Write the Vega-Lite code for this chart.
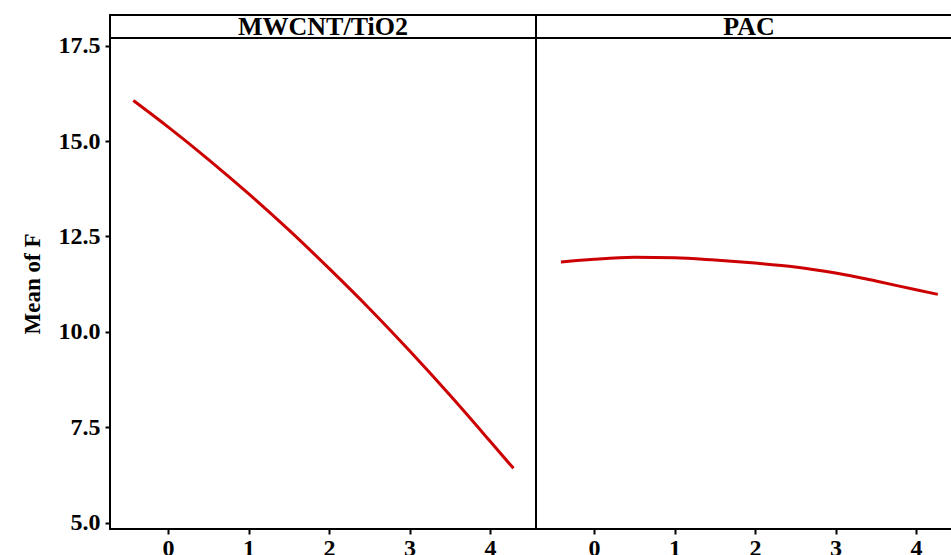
{
  "$schema": "https://vega.github.io/schema/vega-lite/v6.json",
  "background": "white",
  "padding": {"left": 20, "top": 12, "right": 0, "bottom": 0},
  "bounds": "flush",
  "columns": 2,
  "spacing": 0,
  "config": {
    "view": {"stroke": "black", "strokeWidth": 2},
    "font": "Liberation Serif",
    "axis": {
      "grid": false,
      "domain": false,
      "tickColor": "black",
      "tickWidth": 2,
      "tickSize": 5,
      "labelFont": "Liberation Serif",
      "labelFontWeight": "bold",
      "labelFontSize": 24,
      "labelColor": "black",
      "titleFont": "Liberation Serif",
      "titleFontWeight": "bold",
      "titleFontSize": 23,
      "titleColor": "black"
    }
  },
  "datasets": {
    "curves": [
      {"panel": "MWCNT/TiO2", "A": -0.43, "F": 16.06},
      {"panel": "MWCNT/TiO2", "A": 0.0, "F": 15.37},
      {"panel": "MWCNT/TiO2", "A": 0.5, "F": 14.52},
      {"panel": "MWCNT/TiO2", "A": 1.0, "F": 13.62},
      {"panel": "MWCNT/TiO2", "A": 1.5, "F": 12.67},
      {"panel": "MWCNT/TiO2", "A": 2.0, "F": 11.66},
      {"panel": "MWCNT/TiO2", "A": 2.5, "F": 10.61},
      {"panel": "MWCNT/TiO2", "A": 3.0, "F": 9.50},
      {"panel": "MWCNT/TiO2", "A": 3.5, "F": 8.34},
      {"panel": "MWCNT/TiO2", "A": 4.0, "F": 7.13},
      {"panel": "MWCNT/TiO2", "A": 4.29, "F": 6.42},
      {"panel": "PAC", "A": -0.41, "F": 11.83},
      {"panel": "PAC", "A": 0.0, "F": 11.90},
      {"panel": "PAC", "A": 0.5, "F": 11.95},
      {"panel": "PAC", "A": 1.0, "F": 11.94},
      {"panel": "PAC", "A": 1.5, "F": 11.88},
      {"panel": "PAC", "A": 2.0, "F": 11.80},
      {"panel": "PAC", "A": 2.5, "F": 11.70},
      {"panel": "PAC", "A": 3.0, "F": 11.54},
      {"panel": "PAC", "A": 3.5, "F": 11.33},
      {"panel": "PAC", "A": 4.0, "F": 11.10},
      {"panel": "PAC", "A": 4.27, "F": 10.98}
    ],
    "headers": [
      {"panel": "MWCNT/TiO2"},
      {"panel": "PAC"}
    ]
  },
  "concat": [
    {
      "width": 426,
      "height": 23,
      "data": {"name": "headers"},
      "transform": [{"filter": "datum.panel === 'MWCNT/TiO2'"}],
      "mark": {"type": "text", "font": "Liberation Serif", "fontWeight": "bold", "fontSize": 26, "baseline": "middle", "dy": 0, "color": "black"},
      "encoding": {
        "x": {"field": "panel", "type": "nominal", "axis": null},
        "text": {"field": "panel"}
      }
    },
    {
      "width": 426,
      "height": 23,
      "data": {"name": "headers"},
      "transform": [{"filter": "datum.panel === 'PAC'"}],
      "mark": {"type": "text", "font": "Liberation Serif", "fontWeight": "bold", "fontSize": 26, "baseline": "middle", "dy": 0, "color": "black"},
      "encoding": {
        "x": {"field": "panel", "type": "nominal", "axis": null},
        "text": {"field": "panel"}
      }
    },
    {
      "width": 426,
      "height": 491,
      "data": {"name": "curves"},
      "transform": [{"filter": "datum.panel === 'MWCNT/TiO2'"}],
      "mark": {"type": "line", "color": "#CC0000", "strokeWidth": 3, "interpolate": "monotone"},
      "encoding": {
        "x": {"field": "A", "type": "quantitative", "scale": {"domain": [-0.72, 4.57], "nice": false, "zero": false},
              "axis": {"title": null, "values": [0, 1, 2, 3, 4], "labelPadding": 2}},
        "y": {"field": "F", "type": "quantitative", "scale": {"domain": [4.83, 17.7], "nice": false, "zero": false},
              "axis": {"title": "Mean of F", "values": [5, 7.5, 10, 12.5, 15, 17.5], "format": ".1f", "labelPadding": 5, "titlePadding": 14}}
      }
    },
    {
      "width": 426,
      "height": 491,
      "data": {"name": "curves"},
      "transform": [{"filter": "datum.panel === 'PAC'"}],
      "mark": {"type": "line", "color": "#CC0000", "strokeWidth": 3, "interpolate": "monotone"},
      "encoding": {
        "x": {"field": "A", "type": "quantitative", "scale": {"domain": [-0.72, 4.57], "nice": false, "zero": false},
              "axis": {"title": null, "values": [0, 1, 2, 3, 4], "labelPadding": 2}},
        "y": {"field": "F", "type": "quantitative", "scale": {"domain": [4.83, 17.7], "nice": false, "zero": false},
              "axis": null}
      }
    }
  ]
}
